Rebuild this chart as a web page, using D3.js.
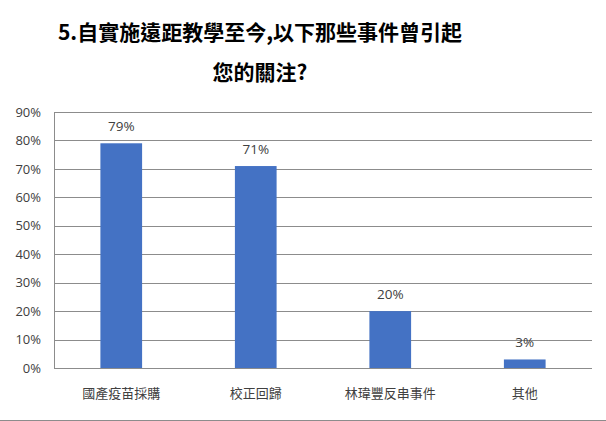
<!DOCTYPE html>
<html>
<head>
<meta charset="utf-8">
<script src="https://cdn.jsdelivr.net/npm/d3@7"></script>
<style>
  body { margin: 0; background: #fff; }
  text { font-family: "Open Sans", "Noto Sans CJK TC", sans-serif; }
</style>
</head>
<body>
<div id="chart"></div>
<script>
// data
var categories = ["國產疫苗採購", "校正回歸", "林瑋豐反串事件", "其他"];
var values = [0.79, 0.71, 0.20, 0.03];
var yTicks = [0, 0.1, 0.2, 0.3, 0.4, 0.5, 0.6, 0.7, 0.8, 0.9];
var titleLines = ["5.自實施遠距教學至今,以下那些事件曾引起", "您的關注?"];

var width = 606, height = 421;
var margin = {top: 112, right: 14, bottom: 53, left: 54};
var innerW = width - margin.left - margin.right;
var innerH = height - margin.top - margin.bottom;

var svg = d3.select('#chart')
  .append('svg')
  .attr('width', width)
  .attr('height', height);

// title
svg.append('g')
  .selectAll('text')
  .data(titleLines)
  .enter().append('text')
    .attr('x', 260)
    .attr('y', (d, i) => 40 + i * 40)
    .attr('text-anchor', 'middle')
    .style('font-family', '"Noto Sans CJK TC", sans-serif')
    .style('font-weight', 'bold')
    .style('font-size', '21px')
    .style('fill', '#000')
    .text(d => d);

var x = d3.scaleBand()
  .domain(categories)
  .range([0, innerW])
  .paddingInner(0.69)
  .paddingOuter(0.345);

var y = d3.scaleLinear()
  .domain([0, 0.9])
  .range([innerH, 0]);

var g = svg.append('g')
  .attr('transform', `translate(${margin.left},${margin.top})`);

// gridlines
g.append('g')
  .selectAll('line')
  .data(yTicks)
  .enter().append('line')
    .attr('x1', 0)
    .attr('x2', innerW)
    .attr('y1', d => Math.round(y(d)) + 0.5)
    .attr('y2', d => Math.round(y(d)) + 0.5)
    .style('stroke', '#8c8c8c')
    .style('stroke-width', 1);

// left axis line
g.append('line')
  .attr('x1', 0.5).attr('x2', 0.5)
  .attr('y1', Math.round(y(0.9)) + 0.5)
  .attr('y2', Math.round(y(0)) + 0.5)
  .style('stroke', '#8c8c8c');

// y tick labels
var yAxis = d3.axisLeft(y)
  .tickValues(yTicks)
  .tickFormat(d3.format('.0%'))
  .tickSize(0)
  .tickPadding(13);
g.append('g')
  .call(yAxis)
  .call(a => a.select('.domain').remove())
  .selectAll('text')
    .style('font-family', '"Open Sans", sans-serif')
    .style('font-size', '13px')
    .style('fill', '#404040');

// bars
g.append('g')
  .selectAll('rect')
  .data(values)
  .enter().append('rect')
    .attr('x', (d, i) => x(categories[i]))
    .attr('y', d => y(d))
    .attr('width', x.bandwidth())
    .attr('height', d => innerH - y(d))
    .style('fill', '#4472c4');

// value labels
g.append('g')
  .selectAll('text')
  .data(values)
  .enter().append('text')
    .attr('x', (d, i) => x(categories[i]) + x.bandwidth() / 2)
    .attr('y', d => y(d) - 12)
    .attr('text-anchor', 'middle')
    .style('font-family', '"Open Sans", sans-serif')
    .style('font-size', '13.5px')
    .style('fill', '#404040')
    .text(d => d3.format('.0%')(d));

// category labels
var xAxis = d3.axisBottom(x).tickSize(0).tickPadding(21);
g.append('g')
  .attr('transform', `translate(0,${innerH})`)
  .call(xAxis)
  .call(a => a.select('.domain').remove())
  .selectAll('text')
    .style('font-family', '"Noto Sans CJK TC", sans-serif')
    .style('font-size', '13px')
    .style('fill', '#404040');

// chart border at bottom
svg.append('line')
  .attr('x1', 0).attr('x2', width)
  .attr('y1', 420.5).attr('y2', 420.5)
  .style('stroke', '#8c8c8c');
</script>
</body>
</html>
